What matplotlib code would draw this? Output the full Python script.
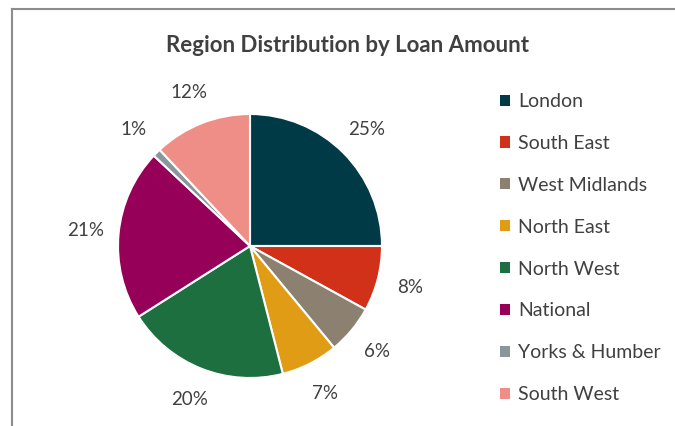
import matplotlib
matplotlib.use("Agg")
import matplotlib.pyplot as plt
from matplotlib.lines import Line2D

regions = ["London", "South East", "West Midlands", "North East", "North West",
           "National", "Yorks & Humber", "South West"]
shares = [25, 8, 6, 7, 20, 21, 1, 12]
colors = ["#003A47", "#D03118", "#8C8170", "#E09C14", "#1E6F40",
          "#960058", "#8B969B", "#EE8E86"]

plt.rcParams['font.family'] = ['Lato', 'DejaVu Sans']
txt = "#404040"

fig = plt.figure(figsize=(6.75, 4.26), dpi=100)
W, H = 675, 426
cx, cy, r = 250, 246, 132
ax = fig.add_axes([(cx - r) / W, (H - cy - r) / H, 2 * r / W, 2 * r / H])
wedges, texts, autotexts = ax.pie(
    shares, colors=colors, startangle=90, counterclock=False,
    autopct=lambda p: f"{p:.0f}%", pctdistance=1.25, radius=1,
    wedgeprops=dict(edgecolor="white", linewidth=1.5),
    textprops=dict(color=txt, fontsize=13.5))
ax.set_xlim(-1, 1)
ax.set_ylim(-1, 1)
ax.set_aspect("equal")
ax.axis("off")

fig.text(348 / W, 1 - 46 / H, "Region Distribution by Loan Amount",
         ha="center", va="center", fontsize=16, fontweight="bold", color=txt)

leg = fig.legend(wedges, regions, loc="upper left",
                 bbox_to_anchor=(500 / W, 1 - 93 / H), frameon=False,
                 fontsize=14, labelcolor=txt, handlelength=0.5,
                 handleheight=0.5, handletextpad=0.45, labelspacing=1.28,
                 borderaxespad=0, borderpad=0)
for h in leg.legend_handles:
    h.set_edgecolor("none")

# chart border (top and left visible)
fig.add_artist(Line2D([12 / W, 1], [1 - 9 / H, 1 - 9 / H], color="#8c8c8c", lw=1.5,
                      transform=fig.transFigure))
fig.add_artist(Line2D([12 / W, 12 / W], [1 - 9 / H, 0], color="#8c8c8c", lw=1.5,
                      transform=fig.transFigure))

fig.savefig("out.png", dpi=100)
